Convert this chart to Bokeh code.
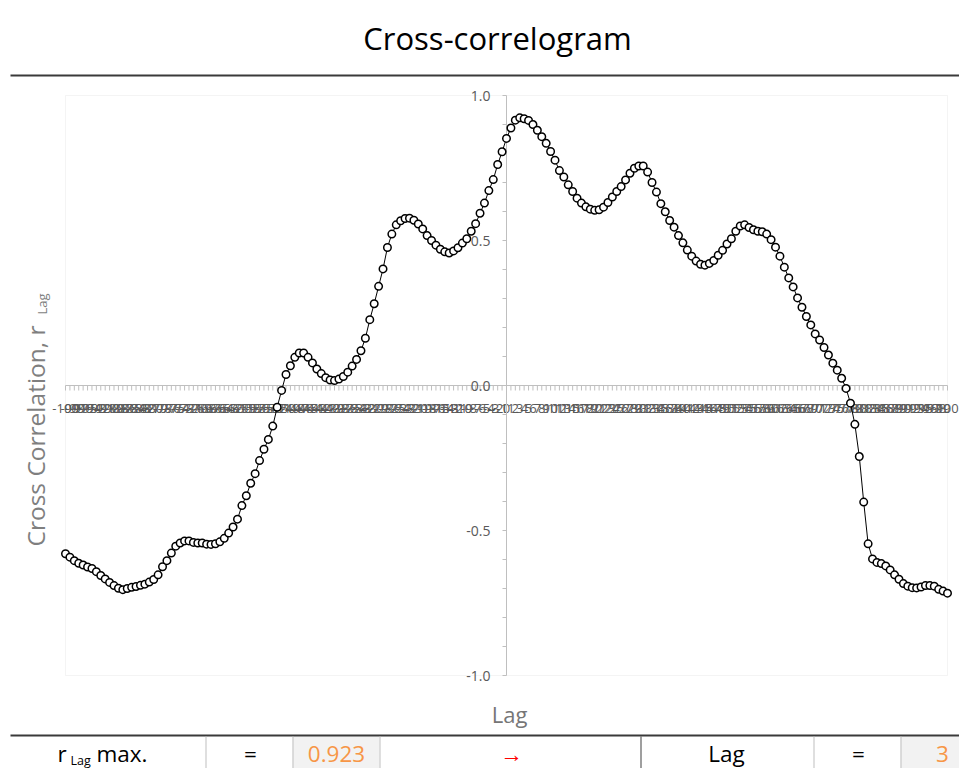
from math import pi
from bokeh.plotting import figure
from bokeh.models import Range1d, Label, BoxAnnotation, ColumnDataSource
from bokeh.core.properties import value
from bokeh.embed import file_html
from bokeh.resources import INLINE

# ---------------- data ----------------
lags = list(range(-100, 101))
r_values = [
    -0.580, -0.592, -0.604, -0.613, -0.619, -0.626, -0.631, -0.642, -0.655, -0.667,   # -100..-91
    -0.679, -0.690, -0.699, -0.704, -0.700, -0.696, -0.693, -0.689, -0.685, -0.678,   # -90..-81
    -0.669, -0.653, -0.625, -0.604, -0.578, -0.554, -0.543, -0.536, -0.536, -0.541,   # -80..-71
    -0.543, -0.543, -0.547, -0.548, -0.546, -0.539, -0.527, -0.509, -0.488, -0.461,   # -70..-61
    -0.414, -0.380, -0.337, -0.304, -0.259, -0.220, -0.186, -0.140, -0.075, -0.017,   # -60..-51
    0.038, 0.068, 0.097, 0.112, 0.112, 0.097, 0.078, 0.057, 0.041, 0.027,             # -50..-41
    0.019, 0.017, 0.022, 0.031, 0.046, 0.067, 0.090, 0.120, 0.163, 0.227,             # -40..-31
    0.282, 0.342, 0.402, 0.476, 0.522, 0.554, 0.568, 0.576, 0.577, 0.570,             # -30..-21
    0.557, 0.540, 0.517, 0.500, 0.484, 0.470, 0.461, 0.457, 0.464, 0.475,             # -20..-11
    0.491, 0.506, 0.532, 0.558, 0.594, 0.629, 0.672, 0.710, 0.762, 0.806,             # -10..-1
    0.852,                                                                             # 0
    0.888, 0.915, 0.923, 0.920, 0.914, 0.900, 0.880, 0.858, 0.835, 0.807,             # 1..10
    0.777, 0.741, 0.719, 0.692, 0.669, 0.646, 0.629, 0.616, 0.608, 0.604,             # 11..20
    0.606, 0.615, 0.631, 0.650, 0.669, 0.686, 0.709, 0.732, 0.749, 0.757,             # 21..30
    0.757, 0.736, 0.700, 0.667, 0.627, 0.599, 0.569, 0.546, 0.517, 0.492,             # 31..40
    0.467, 0.446, 0.429, 0.418, 0.415, 0.421, 0.431, 0.449, 0.466, 0.488,             # 41..50
    0.506, 0.532, 0.550, 0.554, 0.545, 0.537, 0.532, 0.530, 0.522, 0.503,             # 51..60
    0.477, 0.446, 0.408, 0.371, 0.340, 0.302, 0.270, 0.238, 0.209, 0.178,             # 61..70
    0.157, 0.131, 0.105, 0.077, 0.053, 0.025, -0.010, -0.061, -0.134, -0.245,         # 71..80
    -0.402, -0.546, -0.598, -0.610, -0.614, -0.622, -0.636, -0.653, -0.668, -0.683,   # 81..90
    -0.692, -0.697, -0.698, -0.695, -0.690, -0.690, -0.692, -0.703, -0.709, -0.716,   # 91..100
]
assert len(r_values) == len(lags)

x_tick_labels = [str(l) for l in lags]
y_major_ticks = [-1.0, -0.5, 0.0, 0.5, 1.0]
y_tick_labels = ["-1.0", "-0.5", "0.0", "0.5", "1.0"]
y_minor_ticks = [-1.0, -0.9, -0.8, -0.7, -0.6, -0.5, -0.4, -0.3, -0.2, -0.1, 0.0,
                 0.1, 0.2, 0.3, 0.4, 0.5, 0.6, 0.7, 0.8, 0.9, 1.0]

title_text = "Cross-correlogram"
x_title = "Lag"
y_title_main = "Cross Correlation, r"
y_title_sub = "Lag"
r_max = 0.923
lag_at_max = 3

# ---------------- layout (canvas pixels) ----------------
FONT = "Open Sans"
W, H = 959, 768
PL, PR, PT, PB = 65, 947, 95, 675          # plot-area box inside the canvas
LAG_MIN, LAG_MAX = lags[0], lags[-1]
R_MIN, R_MAX = -1.0, 1.0
sx = (PR - PL) / (LAG_MAX - LAG_MIN)       # px per lag
sy = (PB - PT) / (R_MAX - R_MIN)           # px per unit r

x_range = Range1d(LAG_MIN - PL / sx, LAG_MAX + (W - PR) / sx)
y_range = Range1d(R_MIN - (H - PB) / sy, R_MAX + PT / sy)

p = figure(width=W, height=H, x_range=x_range, y_range=y_range,
           output_backend="svg", toolbar_location=None,
           x_axis_location=None, y_axis_location=None, min_border=0)
p.outline_line_color = None
p.grid.visible = False
p.background_fill_color = "white"
p.border_fill_color = "white"

AX = "#bfbfbf"
TICK_TXT = "#595959"

# plot area border
p.add_layout(BoxAnnotation(left=LAG_MIN, right=LAG_MAX, bottom=R_MIN, top=R_MAX,
                           fill_alpha=0, line_color="#d9d9d9", line_width=1, level="underlay"))

# x axis (crosses at r = 0), a tick and a label for every lag
p.segment(x0=LAG_MIN, y0=0, x1=LAG_MAX, y1=0, line_color=AX, line_width=1)
p.segment(x0=lags, y0=[0] * len(lags), x1=lags, y1=[-5 / sy] * len(lags),
          line_color=AX, line_width=1)
p.text(x=lags, y=[0] * len(lags), text=x_tick_labels, text_font=value(FONT),
       text_font_size="13px", text_color=TICK_TXT, text_align="center",
       text_baseline="middle", y_offset=23)

# y axis (crosses at lag = 0)
p.segment(x0=0, y0=R_MIN, x1=0, y1=R_MAX, line_color=AX, line_width=1)
p.segment(x0=[0] * len(y_minor_ticks), y0=y_minor_ticks,
          x1=[-4 / sx] * len(y_minor_ticks), y1=y_minor_ticks, line_color=AX, line_width=1)
p.text(x=[0] * len(y_major_ticks), y=y_major_ticks, text=y_tick_labels,
       text_font=value(FONT), text_font_size="14px", text_color=TICK_TXT,
       text_align="right", text_baseline="middle", x_offset=-16)

# series
src = ColumnDataSource(data=dict(lag=lags, r=r_values))
p.line("lag", "r", source=src, line_color="black", line_width=1)
p.scatter("lag", "r", source=src, size=7.5, fill_color="white", line_color="black",
          line_width=1.5)


def box(l, r, t, b, color):
    p.add_layout(BoxAnnotation(left=l, right=r, top=t, bottom=b,
                               left_units="canvas", right_units="canvas",
                               top_units="canvas", bottom_units="canvas",
                               fill_color=color, fill_alpha=1.0, line_color=None))


def label(x, y, text, size, color="black", align="center", baseline="middle", angle=0):
    p.add_layout(Label(x=x, y=y, x_units="canvas", y_units="canvas", text=text,
                       text_font=FONT, text_font_size=size, text_color=color,
                       text_align=align, text_baseline=baseline, angle=angle))


# title and rule under it
label(497, 37, title_text, "31px")
box(10, W, 74, 76, "#3a3a3a")

# axis titles
label(509, 713, x_title, "22px", color="#767676")
label(35, 546, y_title_main, "24.5px", color="#7f7f7f", align="left", angle=pi / 2)
label(41, 314, y_title_sub, "13px", color="#7f7f7f", align="left", angle=pi / 2)

# result table (the row is cut by the window's bottom edge)
box(292, 379, 736, H, "#f2f2f2")
box(900, W, 736, H, "#f2f2f2")
box(10, W, 734, 736, "#3a3a3a")
for xl, col in [(205, "#bfbfbf"), (292, "#bfbfbf"), (379, "#bfbfbf"),
                (640, "#404040"), (813, "#bfbfbf"), (900, "#bfbfbf")]:
    box(xl, xl + 1, 736, H, col)

TY = 753
label(57, TY, "r", "22.5px", align="left")
label(70, TY + 7, "Lag", "12.5px", align="left")
label(96, TY, "max.", "22.5px", align="left")
label(250, TY, "=", "22.5px")
label(336, TY, f"{r_max:.3f}", "22.5px", color="#f79646")
label(511, TY, "\u2192", "22.5px", color="#ff0000")
label(726, TY, "Lag", "22.5px")
label(858, TY, "=", "22.5px")
label(942, TY, str(lag_at_max), "22.5px", color="#f79646")

open("out.html", "w").write(file_html(p, INLINE))
